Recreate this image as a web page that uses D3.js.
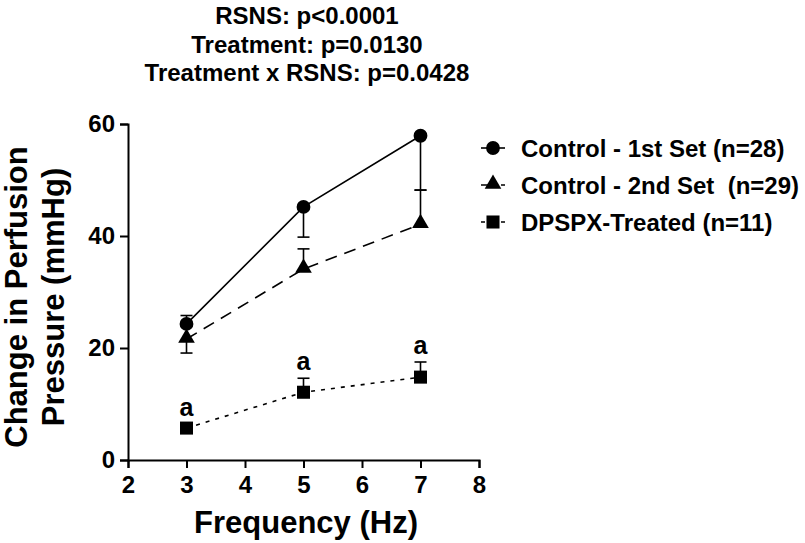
<!DOCTYPE html>
<html>
<head>
<meta charset="utf-8">
<script src="https://cdn.jsdelivr.net/npm/d3@7"></script>
<style>
  body { margin: 0; background: #fff; }
  svg text { font-family: "Liberation Sans", Arial, sans-serif; font-weight: bold; fill: #000; white-space: pre; }
</style>
</head>
<body>
<svg id="chart" width="805" height="543"></svg>
<script>
// ---- data ----
const freq = [3, 5, 7];
const ctrl1 = [24.3, 45.2, 57.9];
const ctrl1Err = [1.5, -5.4, -9.7];      // sign = direction drawn
const ctrl2 = [21.6, 34.1, 42.1];
const ctrl2Err = [-2.5, 3.6, 6.1];
const dpspx = [5.7, 12.1, 14.8];
const dpspxErr = [0.8, 2.5, 2.7];
const dpspxSig = ["a", "a", "a"];

const xTicks = [2, 3, 4, 5, 6, 7, 8];
const yTicks = [0, 20, 40, 60];
const statLines = ["RSNS: p<0.0001", "Treatment: p=0.0130", "Treatment x RSNS: p=0.0428"];
const legendLabels = ["Control - 1st Set (n=28)", "Control - 2nd Set  (n=29)", "DPSPX-Treated (n=11)"];

const svg = d3.select("#chart");
const x = d3.scaleLinear().domain([2, 8]).range([128, 479]);
const y = d3.scaleLinear().domain([0, 60]).range([460, 124]);

const series = [
  { vals: ctrl1, err: ctrl1Err, shape: "circle", dash: null },
  { vals: ctrl2, err: ctrl2Err, shape: "triangle", dash: "12,8" },
  { vals: dpspx, err: dpspxErr, shape: "square", dash: "4,6" }
];

// ---- axes ----
const xAxis = svg.append("g")
  .attr("transform", `translate(0,${y(0)})`)
  .call(d3.axisBottom(x).tickValues(xTicks).tickSize(8).tickPadding(8).tickFormat(d3.format("d")));
const yAxis = svg.append("g")
  .attr("transform", `translate(${x(2)},0)`)
  .call(d3.axisLeft(y).tickValues(yTicks).tickSize(8).tickPadding(5).tickFormat(d3.format("d")));

[xAxis, yAxis].forEach(g => {
  g.select(".domain").attr("stroke", "#000").attr("stroke-width", 2);
  g.selectAll(".tick line").attr("stroke", "#000").attr("stroke-width", 2);
  g.selectAll(".tick text").style("font-size", "24px").attr("fill", "#000");
});

// ---- lines, error bars, markers ----
const sym = {
  circle: d3.symbol(d3.symbolCircle, 150),
  triangle: d3.symbol(d3.symbolTriangle, 120),
  square: d3.symbol(d3.symbolSquare, 170)
};

const line = d3.line().x((d, i) => x(freq[i])).y(d => y(d));

series.forEach(s => {
  svg.append("path")
    .attr("d", line(s.vals))
    .attr("fill", "none")
    .attr("stroke", "#000")
    .attr("stroke-width", 1.6)
    .attr("stroke-dasharray", s.dash);

  const eg = svg.append("g");
  s.vals.forEach((v, i) => {
    const cx = x(freq[i]);
    const yEnd = y(v + s.err[i]);
    eg.append("line").attr("x1", cx).attr("x2", cx).attr("y1", y(v)).attr("y2", yEnd)
      .attr("stroke", "#000").attr("stroke-width", 1.6);
    eg.append("line").attr("x1", cx - 6).attr("x2", cx + 6).attr("y1", yEnd).attr("y2", yEnd)
      .attr("stroke", "#000").attr("stroke-width", 1.6);
  });

  svg.append("g").selectAll("path")
    .data(s.vals)
    .join("path")
    .attr("d", sym[s.shape])
    .attr("transform", (d, i) => `translate(${x(freq[i])},${y(d) + (s.shape === "triangle" ? -1 : 0)})`)
    .attr("fill", "#000");
});

// significance letters
svg.append("g").selectAll("text")
  .data(dpspxSig)
  .join("text")
  .attr("x", (d, i) => x(freq[i]))
  .attr("y", (d, i) => y(dpspx[i] + dpspxErr[i]) - 8)
  .attr("text-anchor", "middle")
  .style("font-size", "25px")
  .text(d => d);

// ---- axis titles ----
svg.append("text")
  .attr("x", 306).attr("y", 533)
  .attr("text-anchor", "middle")
  .style("font-size", "31px")
  .text("Frequency (Hz)");

const yTitle = svg.append("text")
  .attr("transform", "translate(0,297) rotate(-90)")
  .attr("text-anchor", "middle")
  .style("font-size", "31px");
yTitle.append("tspan").attr("x", 0).attr("y", 27).text("Change in Perfusion");
yTitle.append("tspan").attr("x", 0).attr("y", 64).text("Pressure (mmHg)");

// ---- stats header ----
svg.append("g").selectAll("text")
  .data(statLines)
  .join("text")
  .attr("x", 307)
  .attr("y", (d, i) => 24 + i * 28.5)
  .attr("text-anchor", "middle")
  .style("font-size", "24px")
  .text(d => d);

// ---- legend ----
const leg = svg.append("g").attr("transform", "translate(481,148)");
legendLabels.forEach((lab, i) => {
  const s = series[i];
  const row = leg.append("g").attr("transform", `translate(0,${i * 37})`);
  row.append("line").attr("x1", 0).attr("x2", 24).attr("y1", 0).attr("y2", 0)
    .attr("stroke", "#000").attr("stroke-width", 1.6).attr("stroke-dasharray", s.dash);
  row.append("path").attr("d", sym[s.shape]()).attr("transform", `translate(12,${s.shape === "triangle" ? -1 : 0})`).attr("fill", "#000");
  row.append("text").attr("x", 40).attr("y", 9).style("font-size", "24px").text(lab);
});
</script>
</body>
</html>
